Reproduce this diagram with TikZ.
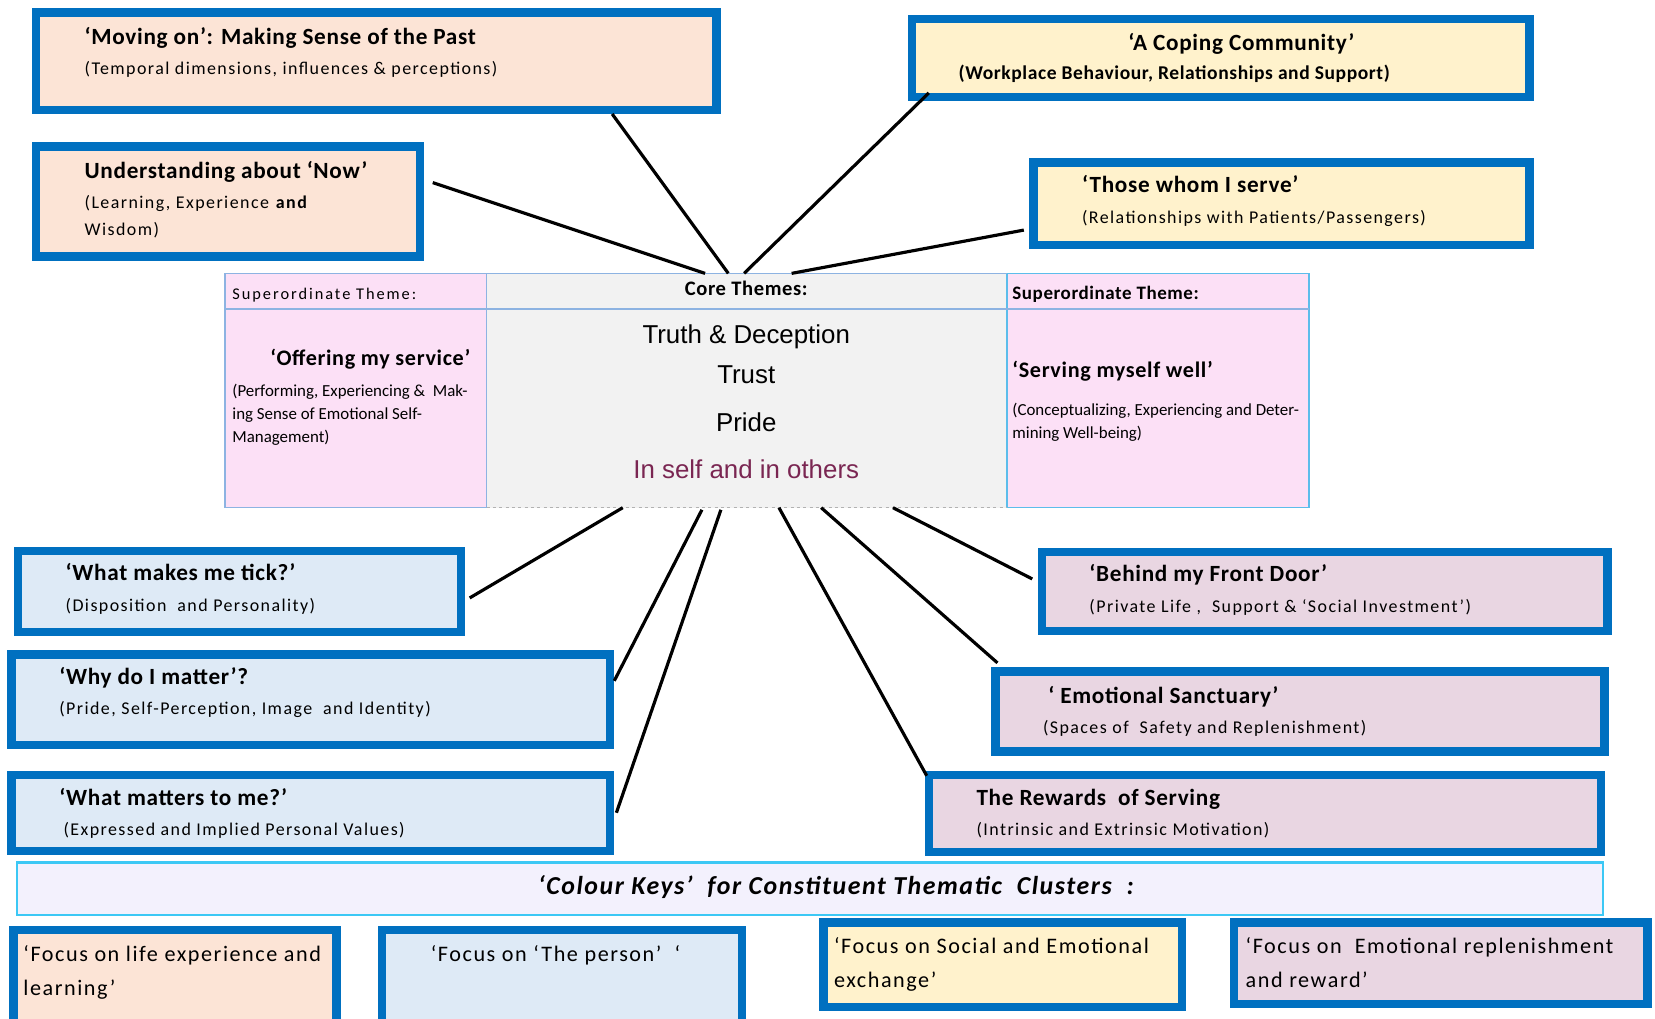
\documentclass[tikz,border=0pt]{standalone}
\usepackage{fontspec}
\setmainfont{Carlito}
\newfontfamily\arialf{Liberation Sans}
\newfontfamily\titf[LetterSpace=3]{Carlito}
\newfontfamily\subf[LetterSpace=8]{Carlito}
\newfontfamily\keyf[LetterSpace=7]{Carlito}
\newfontfamily\kbf[LetterSpace=6]{Carlito}
\newfontfamily\widef[LetterSpace=12]{Carlito}
\usetikzlibrary{calc}
\newcommand\myfs[1]{\fontsize{#1}{#1}\selectfont}
\definecolor{bblue}{HTML}{0070C0}
\definecolor{peach}{HTML}{FCE4D6}
\definecolor{yel}{HTML}{FFF2CC}
\definecolor{lblue}{HTML}{DEEAF6}
\definecolor{mauve}{HTML}{E9D6E2}
\definecolor{tpink}{HTML}{FCE0F6}
\definecolor{tgray}{HTML}{F2F2F2}
\definecolor{tline}{HTML}{8DB3E2}
\definecolor{tcyan}{HTML}{5CBDEB}
\definecolor{kbfill}{HTML}{F3F1FD}
\definecolor{kbline}{HTML}{3CC8F5}
\definecolor{purp}{HTML}{7A2652}
\pgfdeclarelayer{back}
\pgfsetlayers{back,main}
\tikzset{
  bx/.style={draw=bblue, line width=8pt, outer sep=4pt, inner sep=0pt, anchor=north west},
  ttl/.style={anchor=mid west, inner sep=0pt, font=\titf\bfseries\myfs{22}},
  subt/.style={anchor=mid west, inner sep=0pt, font=\subf\myfs{17}},
  keyt/.style={anchor=mid west, inner sep=0pt, font=\keyf\myfs{21}},
  tcol/.style={anchor=north west, inner sep=0pt, outer sep=0pt, line width=1.5pt},
  small/.style={anchor=mid west, inner sep=0pt, font=\myfs{16}},
  core/.style={anchor=mid, inner sep=0pt, font=\arialf\myfs{24.5}},
  conn/.style={draw=black, line width=3pt}
}
\begin{document}
\begin{tikzpicture}[x=1pt,y=-1pt]
\useasboundingbox (0,0) rectangle (1568,965);
\begin{pgfonlayer}{back}
\fill[white] (0,0) rectangle (1568,965);
\end{pgfonlayer}

% ---------- table ----------
\node[tcol, draw=tline, fill=tpink, minimum width=248pt, minimum height=222pt] (offer) at (213,259) {};
\node[tcol, fill=tgray, minimum width=493pt, minimum height=222pt] (core) at (461,259) {};
\node[tcol, draw=tcyan, fill=tpink, minimum width=286pt, minimum height=222pt] (serve) at (954,259) {};
\draw[tline, line width=1.5pt] (core.north west) -- (core.north east);
\draw[gray!60, line width=1.5pt, dashed] (core.south west) -- (core.south east);
\draw[tline, line width=1.5pt] ($(offer.north west)+(0,34)$) -- ($(serve.north east)+(0,34)$);

% ---------- boxes ----------
\node[bx, fill=peach, minimum width=645pt, minimum height=92pt] (mov) at (30,8) {};
\node[bx, fill=peach, minimum width=364pt, minimum height=104pt] (und) at (30,135) {};
\node[bx, fill=yel, minimum width=585pt, minimum height=74pt] (cop) at (860,14) {};
\node[bx, fill=yel, minimum width=470pt, minimum height=78pt] (tho) at (975,150) {};
\node[bx, fill=lblue, minimum width=420pt, minimum height=77pt] (tick) at (13,518) {};
\node[bx, fill=lblue, minimum width=567pt, minimum height=86pt] (why) at (7,616) {};
\node[bx, fill=lblue, minimum width=567pt, minimum height=72pt] (mat) at (7,730) {};
\node[bx, fill=mauve, minimum width=536pt, minimum height=75pt] (door) at (983,519) {};
\node[bx, fill=mauve, minimum width=577pt, minimum height=76pt] (sanc) at (939,632) {};
\node[bx, fill=mauve, minimum width=637pt, minimum height=73pt] (rew) at (876,730) {};

\node[anchor=north west, draw=kbline, fill=kbfill, line width=2.5pt, outer sep=1.25pt, inner sep=0pt,
      minimum width=1502.5pt, minimum height=49.5pt] (kb) at (15,816) {};
\node[bx, fill=peach, minimum width=306pt, minimum height=100pt] (k1) at (9,877) {};
\node[bx, fill=lblue, minimum width=341pt, minimum height=100pt] (k2) at (358,877) {};
\node[bx, fill=yel, minimum width=340pt, minimum height=80pt] (k3) at (776,870) {};
\node[bx, fill=mauve, minimum width=392pt, minimum height=77pt] (k4) at (1165,870) {};

% ---------- connectors ----------
\draw[conn] ($(mov.south west)+(550,0)$) -- ($(core.north west)+(229,0)$);
\draw[conn] ($(und.east)+(8,-18)$) -- ($(core.north west)+(207,0)$);
\draw[conn] ($(cop.south west)+(20,-8)$) -- ($(core.north west)+(244,0)$);
\draw[conn] ($(tho.west)+(-5,25)$) -- ($(core.north west)+(289,0)$);
\draw[conn] ($(tick.east)+(4,6)$) -- ($(core.south west)+(129,0)$);
\draw[conn] ($(why.east)+(0,-18)$) -- ($(core.south west)+(204,2)$);
\draw[conn] ($(mat.east)+(2,0)$) -- ($(core.south west)+(222,2)$);
\draw[conn] ($(door.west)+(-5,-12)$) -- ($(core.south west)+(385,0)$);
\draw[conn] ($(sanc.north west)+(6,-4)$) -- ($(core.south west)+(317,0)$);
\draw[conn] ($(rew.north west)+(2,5)$) -- ($(core.south west)+(277,0)$);

% ---------- texts ----------
\begin{scope}[shift={(0,5)}]
\node[anchor=mid west, inner sep=0pt, font=\widef\myfs{15.5}] (h1) at (220,276) {Superordinate Theme:};
\node[anchor=mid, inner sep=0pt, font=\titf\bfseries\myfs{19.5}] (h2) at (707,273) {Core Themes:};
\node[anchor=mid west, inner sep=0pt, font=\titf\bfseries\myfs{18}] (h3) at (959,276) {Superordinate Theme:};

\node[anchor=mid west, inner sep=0pt, font=\titf\bfseries\myfs{21}] (o1) at (256,339) {‘Offering my service’};
\node[small] (o2) at (220,368) {(Performing, Experiencing \&\ \ Mak-};
\node[small] (o3) at (220,390) {ing Sense of Emotional Self-};
\node[small] (o4) at (220,412) {Management)};

\node[core] (c1) at (707,318) {Truth \& Deception};
\node[core] (c2) at (707,356) {Trust};
\node[core] (c3) at (707,401) {Pride};
\node[core, text=purp] (c4) at (707,446) {In self and in others};

\node[anchor=mid west, inner sep=0pt, font=\titf\bfseries\myfs{21}] (r1) at (959,350) {‘Serving myself well’};
\node[small] (r2) at (959,386) {(Conceptualizing, Experiencing and Deter-};
\node[small] (r3) at (959,408) {mining Well-being)};

\node[ttl] (movt) at (80,35) {‘Moving on’: Making Sense of the Past};
\node[subt] (movs) at (80,63) {(Temporal dimensions, influences \& perceptions)};
\node[ttl] (undt) at (80,162) {Understanding about ‘Now’};
\node[subt] (unds) at (80,190) {(Learning, Experience \textbf{and}};
\node[subt] (unds2) at (80,216) {Wisdom)};
\node[anchor=mid, inner sep=0pt, font=\titf\bfseries\myfs{22}] (copt) at (1176,40) {‘A Coping Community’};
\node[anchor=mid west, inner sep=0pt, font=\titf\bfseries\myfs{18.5}] (cops) at (908,68) {(Workplace Behaviour, Relationships and Support)};
\node[ttl] (thot) at (1025,175) {‘Those whom I serve’};
\node[subt] (thos) at (1025,204) {(Relationships with Patients/Passengers)};
\node[ttl] (tickt) at (62,543) {‘What makes me tick?’};
\node[subt] (ticks) at (62,572) {(Disposition\ \ and Personality)};
\node[ttl] (whyt) at (56,641) {‘Why do I matter’?};
\node[subt] (whys) at (56,670) {(Pride, Self-Perception, Image\ \ and Identity)};
\node[ttl] (matt) at (56,756) {‘What matters to me?’};
\node[subt] (mats) at (60,784) {(Expressed and Implied Personal Values)};
\node[ttl] (doort) at (1032,544) {‘Behind my Front Door’};
\node[subt] (doors) at (1032,573) {(Private Life ,\ \ Support \& ‘Social Investment’)};
\node[ttl] (ienct) at (993,659) {‘ Emotional Sanctuary’};
\node[subt] (sancs) at (988,688) {(Spaces of\ \ Safety and Replenishment)};
\node[ttl] (rewt) at (925,756) {The Rewards\ \ of\ Serving};
\node[subt] (rews) at (925,784) {(Intrinsic and Extrinsic Motivation)};

\node[anchor=mid, inner sep=0pt, font=\kbf\bfseries\itshape\myfs{24.5}] (kbt) at (792,840) {‘Colour Keys’\ \ for Constituent Thematic\ \ Clusters\ \ :};
\node[keyt] (k1a) at (22,904) {‘Focus on life experience and};
\node[keyt] (k1b) at (22,936) {learning’};
\node[keyt] (k2a) at (408,904) {‘Focus on ‘The person’\ \ ‘};
\node[keyt] (k3a) at (790,896) {‘Focus on Social and Emotional};
\node[keyt] (k3b) at (790,928) {exchange’};
\node[keyt] (k4a) at (1180,896) {‘Focus on\ \ Emotional replenishment};
\node[keyt] (k4b) at (1180,928) {and reward’};
\end{scope}
\end{tikzpicture}
\end{document}
